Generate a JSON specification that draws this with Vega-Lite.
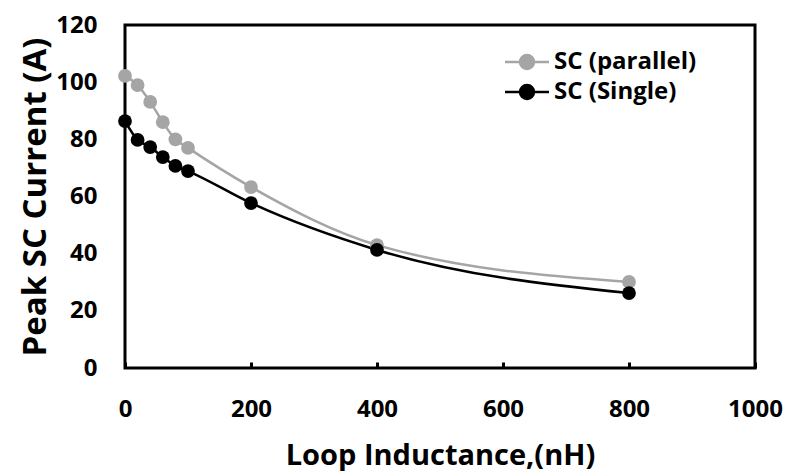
{
  "$schema": "https://vega.github.io/schema/vega-lite/v6.json",
  "width": 630,
  "height": 343,
  "autosize": "none",
  "padding": {"left": 125, "top": 25, "right": 33, "bottom": 103},
  "background": "white",
  "config": {
    "view": {"stroke": "#000", "strokeWidth": 3},
    "font": "Open Sans",
    "axis": {
      "grid": false,
      "domain": false,
      "labelFont": "Open Sans",
      "labelFontWeight": "bold",
      "labelFontSize": 24,
      "labelColor": "#000",
      "titleFont": "Open Sans",
      "titleFontWeight": "bold",
      "titleColor": "#000"
    }
  },
  "data": {
    "values": [
      {"L": 0, "I": 102.2, "s": "SC (parallel)"},
      {"L": 20, "I": 99.0, "s": "SC (parallel)"},
      {"L": 40, "I": 93.1, "s": "SC (parallel)"},
      {"L": 60, "I": 86.0, "s": "SC (parallel)"},
      {"L": 80, "I": 80.0, "s": "SC (parallel)"},
      {"L": 100, "I": 77.0, "s": "SC (parallel)"},
      {"L": 200, "I": 63.3, "s": "SC (parallel)"},
      {"L": 400, "I": 43.0, "s": "SC (parallel)"},
      {"L": 800, "I": 30.1, "s": "SC (parallel)"},
      {"L": 0, "I": 86.4, "s": "SC (Single)"},
      {"L": 20, "I": 79.8, "s": "SC (Single)"},
      {"L": 40, "I": 77.3, "s": "SC (Single)"},
      {"L": 60, "I": 73.8, "s": "SC (Single)"},
      {"L": 80, "I": 70.7, "s": "SC (Single)"},
      {"L": 100, "I": 68.9, "s": "SC (Single)"},
      {"L": 200, "I": 57.7, "s": "SC (Single)"},
      {"L": 400, "I": 41.3, "s": "SC (Single)"},
      {"L": 800, "I": 26.2, "s": "SC (Single)"}
    ]
  },
  "encoding": {
    "x": {
      "field": "L",
      "type": "quantitative",
      "scale": {"domain": [0, 1000], "nice": false, "zero": true},
      "axis": {
        "values": [0, 200, 400, 600, 800, 1000],
        "format": "d",
        "title": "Loop Inductance,(nH)",
        "titleFontSize": 29,
        "titlePadding": 20,
        "ticks": true,
        "tickSize": -6,
        "tickWidth": 3,
        "tickColor": "#000",
        "labelPadding": 35,
        "labelFlush": false
      }
    },
    "y": {
      "field": "I",
      "type": "quantitative",
      "scale": {"domain": [0, 120], "nice": false},
      "axis": {
        "values": [0, 20, 40, 60, 80, 100, 120],
        "title": "Peak SC Current (A)",
        "titleFontSize": 33,
        "titlePadding": 3,
        "ticks": false,
        "labelPadding": 28,
        "labelFlush": false
      }
    },
    "color": {
      "field": "s",
      "type": "nominal",
      "scale": {"domain": ["SC (parallel)", "SC (Single)"], "range": ["#A5A5A5", "#000000"]},
      "legend": {
        "title": null,
        "orient": "none",
        "legendX": 390,
        "legendY": 25,
        "labelFont": "Open Sans",
        "labelFontWeight": "bold",
        "labelFontSize": 24,
        "labelColor": "#000",
        "symbolType": "M-2.2,0H2.2M-0.7,0A0.7,0.7 0 1,1 0.7,0A0.7,0.7 0 1,1 -0.7,0Z",
        "symbolSize": 400,
        "symbolStrokeWidth": 2.5,
        "labelOffset": 15,
        "rowPadding": 6
      }
    }
  },
  "layer": [
    {
      "mark": {"type": "line", "interpolate": "monotone", "strokeWidth": 2.5}
    },
    {
      "mark": {"type": "point", "filled": true, "size": 190, "opacity": 1, "shape": "circle"}
    }
  ]
}
